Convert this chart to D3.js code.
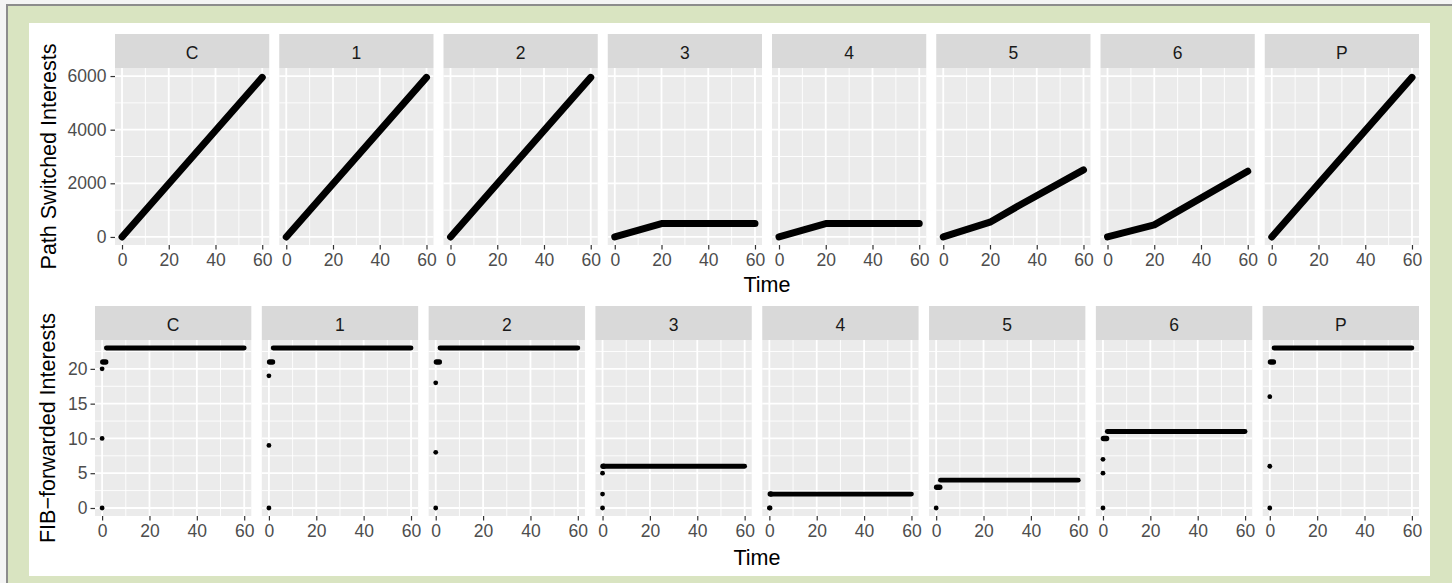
<!DOCTYPE html>
<html>
<head>
<meta charset="utf-8">
<script src="https://cdn.jsdelivr.net/npm/d3@7"></script>
<style>
  body { margin: 0; background: #fff; }
  text { font-family: "Liberation Sans", Arial, Helvetica, sans-serif; }
</style>
</head>
<body>
<div id="chart"></div>
<script>
// facets and ticks
const facets = ["C", "1", "2", "3", "4", "5", "6", "P"];
const timeTicks = [0, 20, 40, 60];
const switchedTicks = [0, 2000, 4000, 6000];
const fibTicks = [0, 5, 10, 15, 20];

// top row: path switched interests, breakpoints
const pathSwitched = [
    [[0, 0], [60, 5950]],                         // C
    [[0, 0], [60, 5950]],                         // 1
    [[0, 0], [60, 5950]],                         // 2
    [[0, 0], [20, 500], [60, 500]],               // 3
    [[0, 0], [20, 500], [60, 500]],               // 4
    [[0, 0], [20, 550], [33, 1200], [60, 2500]],  // 5
    [[0, 0], [20, 450], [60, 2450]],              // 6
    [[0, 0], [60, 5950]]                          // P
];

// bottom row: FIB-forwarded interests
// single points at start
const fibSingles = [
    [[0, 0], [0, 10], [0, 20]],
    [[0, 0], [0, 9], [0, 19]],
    [[0, 0], [0, 8], [0, 18]],
    [[0, 0], [0, 2], [0, 5]],
    [[0, 0], [0.3, 0]],
    [[0, 0]],
    [[0, 0], [0, 5], [0, 7]],
    [[0, 0], [0, 6], [0, 16]]
];
// short dense run just before the plateau [from, to, value]
const fibEarly = [
    [0.3, 1.5, 21],
    [0.3, 1.5, 21],
    [0.3, 1.5, 21],
    [0.2, 0.4, 6],
    [0.4, 0.6, 2],
    [0.2, 1.5, 3],
    [0.2, 1.5, 10],
    [0.3, 1.5, 21]
];
// plateau [from, to, value]
const fibSteady = [
    [1.8, 60, 23],
    [1.8, 60, 23],
    [1.8, 60, 23],
    [0.4, 60, 6],
    [0.6, 60, 2],
    [1.8, 60, 4],
    [1.8, 60, 11],
    [1.8, 60, 23]
];

const W = 1452, H = 583;
const FONT = "'Liberation Sans', Arial, Helvetica, sans-serif";
const SMALL = 17.5, BIG = 21.5;
const svg = d3.select("#chart").append("svg")
    .attr("width", W).attr("height", H);

// frame
svg.append("rect").attr("width", W).attr("height", H).attr("fill", "#f4f4f4");
svg.append("rect").attr("x", 6).attr("y", 4).attr("width", W - 6).attr("height", H - 4).attr("fill", "#8c8c8c");
svg.append("rect").attr("x", 8).attr("y", 6).attr("width", W - 8).attr("height", H - 6).attr("fill", "#d9e4c1");
svg.append("rect").attr("x", 29).attr("y", 23).attr("width", 1401).attr("height", 553).attr("fill", "#fff");

// draws one row of facets
function drawRow(opt) {
    const n = facets.length;
    const pw = (opt.right - opt.left - opt.gap * (n - 1)) / n;
    const x = d3.scaleLinear().domain([-3, 63]).range([0, pw]);
    const y = d3.scaleLinear().domain(opt.yDomain).range([opt.bottom - opt.top, 0]);
    const ph = opt.bottom - opt.top;

    facets.forEach((f, i) => {
        const g = svg.append("g")
            .attr("transform", `translate(${opt.left + i * (pw + opt.gap)},${opt.top})`);

        // strip
        g.append("rect").attr("x", 0).attr("y", -opt.strip).attr("width", pw).attr("height", opt.strip)
            .attr("fill", "#d9d9d9");
        g.append("text").attr("x", pw / 2).attr("y", -opt.strip / 2 + 1.5).attr("dy", "0.36em")
            .attr("text-anchor", "middle").attr("font-size", SMALL).attr("fill", "#1a1a1a").text(f);

        // panel
        g.append("rect").attr("width", pw).attr("height", ph).attr("fill", "#ebebeb");
        const xMinor = [10, 30, 50];
        g.selectAll(".xm").data(xMinor).enter().append("line")
            .attr("x1", d => x(d)).attr("x2", d => x(d)).attr("y1", 0).attr("y2", ph)
            .attr("stroke", "#fff").attr("stroke-width", 0.9);
        g.selectAll(".ym").data(opt.yMinor).enter().append("line")
            .attr("y1", d => y(d)).attr("y2", d => y(d)).attr("x1", 0).attr("x2", pw)
            .attr("stroke", "#fff").attr("stroke-width", 0.9);
        g.selectAll(".xM").data(timeTicks).enter().append("line")
            .attr("x1", d => x(d)).attr("x2", d => x(d)).attr("y1", 0).attr("y2", ph)
            .attr("stroke", "#fff").attr("stroke-width", 1.8);
        g.selectAll(".yM").data(opt.yTicks).enter().append("line")
            .attr("y1", d => y(d)).attr("y2", d => y(d)).attr("x1", 0).attr("x2", pw)
            .attr("stroke", "#fff").attr("stroke-width", 1.8);

        // x axis
        const xa = g.append("g").attr("transform", `translate(0,${ph})`)
            .call(d3.axisBottom(x).tickValues(timeTicks).tickSize(4.5).tickPadding(opt.xPad));
        xa.select(".domain").remove();
        xa.selectAll("line").attr("stroke", "#333").attr("stroke-width", 1.2);
        xa.selectAll("text").attr("font-size", SMALL).attr("fill", "#4d4d4d").style("font-family", FONT);

        // y axis on first panel
        if (i === 0) {
            const ya = g.append("g")
                .call(d3.axisLeft(y).tickValues(opt.yTicks).tickFormat(d3.format("d"))
                    .tickSize(4.5).tickPadding(opt.yPad));
            ya.select(".domain").remove();
            ya.selectAll("line").attr("stroke", "#333").attr("stroke-width", 1.2);
            ya.selectAll("text").attr("font-size", SMALL).attr("fill", "#4d4d4d").style("font-family", FONT);
        }

        opt.drawData(g, i, x, y);
    });

    // axis titles
    svg.append("text").attr("x", (opt.left + opt.right) / 2).attr("y", opt.timeY)
        .attr("text-anchor", "middle").attr("font-size", BIG).attr("fill", "#000").text("Time");
    svg.append("text")
        .attr("transform", `translate(${opt.titleX},${(opt.top + opt.bottom) / 2}) rotate(-90)`)
        .attr("text-anchor", "middle").attr("font-size", BIG).attr("fill", "#000").text(opt.title);
}

// top row
drawRow({
    left: 115, right: 1419, gap: 10, top: 68, bottom: 245, strip: 34,
    yDomain: [-300, 6300], yTicks: switchedTicks, yMinor: [1000, 3000, 5000],
    xPad: 4.5, yPad: 4,
    timeY: 291.5, titleX: 56, title: "Path Switched Interests",
    drawData: (g, i, x, y) => {
        const line = d3.line().x(d => x(d[0])).y(d => y(d[1]));
        g.append("path").attr("d", line(pathSwitched[i]))
            .attr("fill", "none").attr("stroke", "#000").attr("stroke-width", 7)
            .attr("stroke-linecap", "round").attr("stroke-linejoin", "round");
    }
});

// bottom row
drawRow({
    left: 95, right: 1419, gap: 10.5, top: 340, bottom: 516, strip: 34,
    yDomain: [-1.15, 24.15], yTicks: fibTicks, yMinor: [2.5, 7.5, 12.5, 17.5, 22.5],
    xPad: 4, yPad: 3,
    timeY: 564.5, titleX: 55, title: "FIB\u2212forwarded Interests",
    drawData: (g, i, x, y) => {
        g.selectAll(".pt").data(fibSingles[i]).enter().append("circle")
            .attr("cx", d => x(d[0])).attr("cy", d => y(d[1])).attr("r", 2.4).attr("fill", "#000");
        const e = fibEarly[i];
        g.append("line").attr("x1", x(e[0])).attr("x2", x(e[1])).attr("y1", y(e[2])).attr("y2", y(e[2]))
            .attr("stroke", "#000").attr("stroke-width", 5.5).attr("stroke-linecap", "round");
        const s = fibSteady[i];
        g.append("line").attr("x1", x(s[0])).attr("x2", x(s[1])).attr("y1", y(s[2])).attr("y2", y(s[2]))
            .attr("stroke", "#000").attr("stroke-width", 4.8).attr("stroke-linecap", "round");
    }
});
</script>
</body>
</html>
